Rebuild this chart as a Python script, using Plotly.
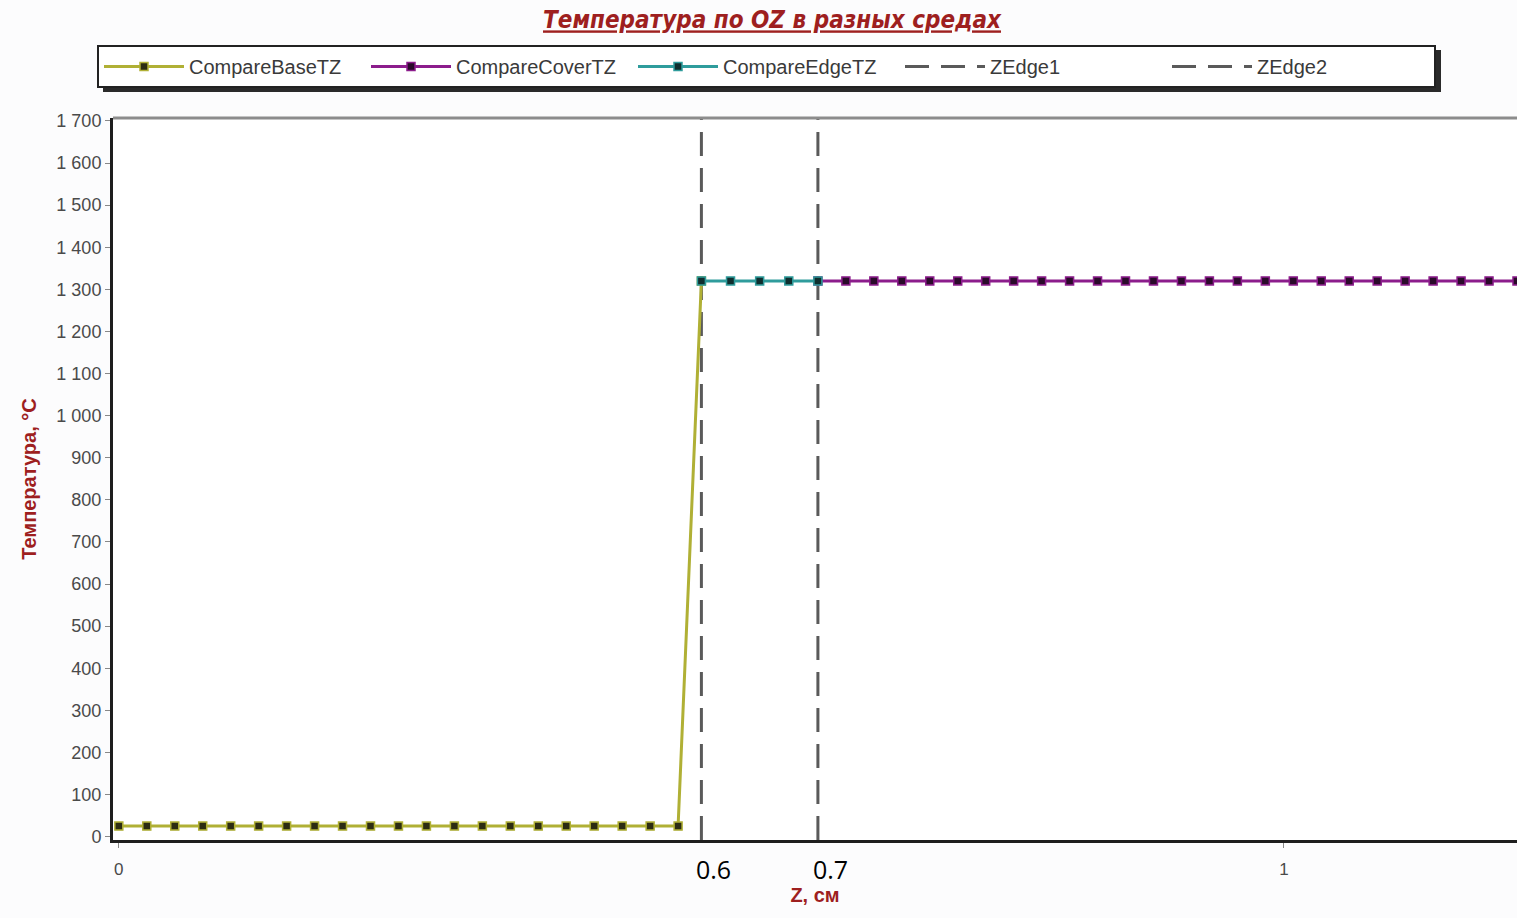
import plotly.graph_objects as go

# Temperature profiles along OZ for the three media
base_z = [0, 0.024, 0.048, 0.072, 0.096, 0.12, 0.144, 0.168, 0.192, 0.216, 0.24,
          0.264, 0.288, 0.312, 0.336, 0.36, 0.384, 0.408, 0.432, 0.456, 0.48, 0.5]
base_t = [25, 25, 25, 25, 25, 25, 25, 25, 25, 25, 25,
          25, 25, 25, 25, 25, 25, 25, 25, 25, 25, 1320]

edge_z = [0.5, 0.525, 0.55, 0.575, 0.6]
edge_t = [1320, 1320, 1320, 1320, 1320]

cover_z = [0.6, 0.624, 0.648, 0.672, 0.696, 0.72, 0.744, 0.768, 0.792, 0.816, 0.84,
           0.864, 0.888, 0.912, 0.936, 0.96, 0.984, 1.008, 1.032, 1.056, 1.08,
           1.104, 1.128, 1.152, 1.176, 1.2]
cover_t = [1320] * 26

# Boundaries between media and their captions
edge1_z = 0.5
edge2_z = 0.6
edge_labels = ["0.6", "0.7"]

x_range = [-0.005, 1.2]
y_range = [-8, 1707]

TITLE_RED = "#9e1f1f"
FONT = "Liberation Sans, Arial, sans-serif"

fig = go.Figure()

# Media boundaries (drawn first so series markers sit on top)
for name, z, rank in [("ZEdge1", edge1_z, 4), ("ZEdge2", edge2_z, 5)]:
    fig.add_trace(go.Scatter(
        x=[z, z], y=y_range, mode="lines", name=name, legendrank=rank,
        line=dict(color="#5a5a5a", width=3, dash="24px,12px"),
        hoverinfo="skip",
    ))

series = [
    ("CompareBaseTZ", base_z, base_t, "#b0b035", "#2c2c12", 1),
    ("CompareCoverTZ", cover_z, cover_t, "#8c1d8c", "#2a0a2a", 2),
    ("CompareEdgeTZ", edge_z, edge_t, "#2f9c9c", "#0f2e2e", 3),
]
for name, z, t, col, mcol, rank in series:
    fig.add_trace(go.Scatter(
        x=z, y=t, mode="lines+markers", name=name, legendrank=rank,
        line=dict(color=col, width=3),
        marker=dict(symbol="square", size=8, color=mcol, line=dict(color=col, width=1.5)),
    ))

annotations = [
    dict(x=z, y=-0.04, xref="x", yref="paper", text=lab, showarrow=False,
         xanchor="left", yanchor="middle", xshift=-7,
         font=dict(family="Open Sans, Liberation Sans, sans-serif", size=25, color="#000000"))
    for z, lab in zip([edge1_z, edge2_z], edge_labels)
]

shapes = [
    # legend drop shadow
    dict(type="rect", xref="paper", yref="paper",
         x0=(103 - 113) / 1404, x1=(1441 - 113) / 1404,
         y0=(840 - 92) / 722, y1=(840 - 50) / 722,
         fillcolor="#2a2a2a", line=dict(width=0), layer="below"),
    # top border of the plot area
    dict(type="line", xref="paper", yref="paper", x0=0, x1=1, y0=1, y1=1,
         line=dict(color="#8c8c8c", width=3)),
]

fig.update_layout(
    width=1517, height=918,
    margin=dict(l=113, r=0, t=118, b=78),
    paper_bgcolor="#fcfcfd", plot_bgcolor="#ffffff",
    separators=". ",
    font=dict(family=FONT, color="#4a4a4a"),
    title=dict(
        text="Температура по OZ в разных средах",
        x=772 / 1517, xanchor="center", xref="container",
        y=1 - 20 / 918, yanchor="middle", yref="container",
        font=dict(family="DejaVu Sans Condensed, Liberation Sans Narrow, Liberation Sans, sans-serif",
                  size=24, color=TITLE_RED, weight="bold", style="italic", lineposition="under"),
    ),
    showlegend=True,
    legend=dict(
        orientation="h", x=(97 - 113) / 1404, xanchor="left",
        y=(840 - 45) / 722, yanchor="top",
        bgcolor="#ffffff", bordercolor="#222222", borderwidth=2,
        font=dict(family=FONT, size=20, color="#3a3a3a"),
        itemwidth=80, entrywidth=172, traceorder="normal",
    ),
    xaxis=dict(
        range=x_range, tickvals=[0, 1], ticks="outside", ticklen=5, tickcolor="#888888",
        showline=True, linecolor="#1e1e1e", linewidth=3, showgrid=False, zeroline=False,
        tickfont=dict(size=17, color="#4a4a4a"), ticklabelstandoff=7,
        title=dict(text="Z, см", standoff=10,
                   font=dict(size=20, color=TITLE_RED, weight="bold")),
    ),
    yaxis=dict(
        range=y_range, dtick=100, tick0=0, ticks="outside", ticklen=5, tickcolor="#888888",
        separatethousands=True,
        showline=True, linecolor="#1e1e1e", linewidth=3, showgrid=False, zeroline=False,
        tickfont=dict(size=18, color="#4a4a4a"),
        title=dict(text="Температура, °C", standoff=15,
                   font=dict(size=20, color=TITLE_RED, weight="bold")),
    ),
    annotations=annotations,
    shapes=shapes,
)

fig.write_html("out.html")
